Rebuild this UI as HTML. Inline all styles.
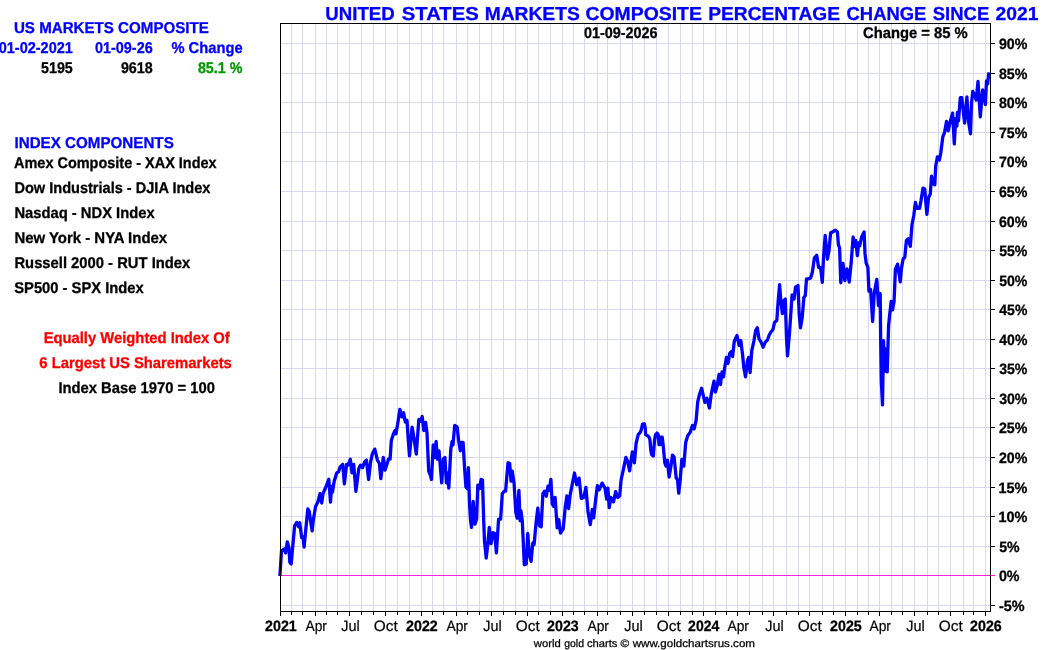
<!DOCTYPE html>
<html><head><meta charset="utf-8"><title>US Markets Composite</title>
<style>html,body{margin:0;padding:0;background:#fff;width:1050px;height:650px;overflow:hidden}</style></head>
<body>
<svg width="1050" height="650" viewBox="0 0 1050 650" style="position:absolute;left:0;top:0;will-change:transform;text-rendering:geometricPrecision;font-family:'Liberation Sans',sans-serif">
<rect width="1050" height="650" fill="#fff"/>
<path d="M291.5 24V611M302.5 24V611M315.5 24V611M326.5 24V611M337.5 24V611M349.5 24V611M361.5 24V611M373.5 24V611M385.5 24V611M397.5 24V611M409.5 24V611M421.5 24V611M432.5 24V611M443.5 24V611M456.5 24V611M467.5 24V611M479.5 24V611M491.5 24V611M503.5 24V611M515.5 24V611M527.5 24V611M538.5 24V611M550.5 24V611M562.5 24V611M573.5 24V611M584.5 24V611M597.5 24V611M607.5 24V611M620.5 24V611M632.5 24V611M644.5 24V611M656.5 24V611M668.5 24V611M680.5 24V611M692.5 24V611M703.5 24V611M715.5 24V611M726.5 24V611M737.5 24V611M749.5 24V611M762.5 24V611M773.5 24V611M786.5 24V611M798.5 24V611M809.5 24V611M822.5 24V611M833.5 24V611M845.5 24V611M857.5 24V611M868.5 24V611M879.5 24V611M891.5 24V611M902.5 24V611M914.5 24V611M927.5 24V611M938.5 24V611M950.5 24V611M963.5 24V611M973.5 24V611M985.5 24V611M281 605.5H990M281 546.5H990M281 516.5H990M281 487.5H990M281 457.5H990M281 427.5H990M281 398.5H990M281 368.5H990M281 339.5H990M281 309.5H990M281 280.5H990M281 250.5H990M281 221.5H990M281 191.5H990M281 161.5H990M281 132.5H990M281 102.5H990M281 73.5H990M281 43.5H990" stroke="#d6d8f4" stroke-width="1" fill="none" shape-rendering="crispEdges"/>
<path d="M280 575.5H995" stroke="#f51ee1" stroke-width="1" shape-rendering="crispEdges"/>
<path d="M279.9 576.0 L281.5 550.8 L284.8 548.7 L285.6 552.9 L287.3 541.9 L289.0 547.8 L289.8 562.2 L291.2 563.9 L294.6 525.8 L296.6 522.5 L298.6 526.7 L299.7 522.8 L301.7 537.7 L303.0 537.0 L304.1 547.0 L307.8 508.9 L309.3 511.5 L310.5 520.8 L312.2 530.9 L313.2 520.8 L315.6 506.4 L317.8 502.1 L320.0 493.7 L321.7 503.0 L323.0 493.7 L326.2 486.1 L328.8 479.3 L330.5 502.1 L331.6 486.5 L332.5 492.0 L334.2 481.2 L336.8 472.8 L338.5 472.0 L340.2 466.8 L342.7 464.3 L344.4 483.8 L346.6 464.3 L348.3 465.1 L350.3 459.2 L352.0 472.8 L353.7 464.3 L355.9 491.4 L358.8 468.5 L360.5 465.1 L362.5 467.7 L364.7 461.8 L366.4 460.1 L368.6 479.5 L370.6 461.8 L372.3 454.1 L374.8 449.1 L377.4 460.1 L379.4 463.5 L380.8 478.7 L383.3 457.5 L385.0 470.2 L386.7 465.1 L388.4 459.2 L390.1 459.2 L391.3 440.6 L393.5 433.8 L395.1 430.5 L396.0 433.8 L397.7 423.7 L399.9 409.3 L401.9 416.9 L403.6 412.7 L405.3 422.0 L407.0 420.3 L408.2 438.9 L409.5 455.8 L412.1 427.1 L414.1 438.9 L416.3 454.1 L418.8 419.5 L420.5 421.2 L422.2 416.5 L423.8 430.5 L425.6 422.4 L427.0 433.0 L428.7 471.1 L430.2 474.5 L431.5 479.5 L433.2 444.8 L434.9 457.5 L436.1 441.5 L437.4 459.2 L439.0 450.8 L441.7 482.9 L443.4 459.2 L444.9 457.5 L446.4 482.9 L447.4 472.8 L448.8 488.0 L450.8 449.1 L452.1 441.5 L453.0 444.8 L454.7 425.4 L457.2 427.1 L458.6 440.6 L460.3 450.8 L461.5 442.3 L463.1 442.3 L464.7 470.0 L465.9 486.9 L467.4 488.7 L468.4 467.7 L469.6 505.0 L470.5 520.0 L471.5 527.5 L473.2 501.3 L474.9 524.1 L476.6 519.1 L477.8 485.2 L479.5 488.6 L481.2 479.3 L482.5 480.2 L483.7 520.8 L484.5 541.1 L486.2 558.0 L487.6 546.1 L489.3 527.5 L491.0 543.6 L493.0 532.6 L494.7 533.5 L496.4 552.9 L498.6 519.1 L500.6 519.1 L502.3 493.7 L504.3 491.2 L505.6 491.2 L508.0 462.6 L509.7 463.5 L511.0 481.2 L512.2 471.1 L514.1 483.5 L515.8 512.3 L517.2 518.2 L518.9 490.3 L520.1 520.8 L520.9 510.6 L522.3 520.8 L524.3 564.8 L526.3 563.9 L527.7 533.5 L529.4 554.6 L531.1 561.4 L532.8 542.8 L534.1 544.5 L536.1 522.5 L537.8 508.1 L539.5 525.8 L541.2 526.7 L542.9 493.7 L544.6 491.2 L546.3 496.2 L548.0 486.1 L549.2 490.3 L550.9 479.3 L552.2 503.8 L553.5 506.2 L555.1 497.3 L557.2 527.8 L558.8 519.5 L560.5 533.1 L563.2 528.8 L565.2 507.7 L566.9 495.8 L568.6 508.5 L570.3 494.1 L572.0 485.7 L574.5 473.0 L576.7 484.8 L579.1 478.1 L581.3 498.4 L583.8 497.5 L585.9 487.4 L588.1 512.8 L590.3 524.6 L592.3 509.4 L593.7 517.8 L595.7 499.2 L597.4 485.7 L599.1 489.9 L602.1 483.1 L605.0 488.2 L606.7 499.2 L607.9 488.2 L609.2 507.7 L610.9 497.5 L613.5 501.8 L615.7 491.6 L617.7 497.5 L619.7 495.8 L621.1 479.8 L623.6 468.3 L625.9 457.3 L627.6 461.1 L629.6 470.8 L632.4 451.8 L634.4 462.8 L636.1 443.5 L638.2 434.7 L640.4 432.2 L641.6 428.5 L642.5 424.2 L644.4 423.8 L645.3 428.5 L645.6 434.6 L647.2 435.5 L649.0 437.1 L649.9 439.5 L650.8 450.0 L651.6 454.5 L653.3 456.0 L654.5 440.8 L655.5 434.6 L657.0 433.1 L658.2 434.6 L659.0 444.5 L660.1 444.5 L660.7 437.1 L662.2 437.1 L663.2 445.5 L664.8 462.8 L666.0 466.1 L667.4 460.2 L669.1 477.1 L670.8 467.0 L672.5 455.1 L674.1 456.8 L676.2 478.0 L677.5 479.7 L678.7 493.2 L680.1 481.4 L681.8 459.4 L683.8 466.1 L685.7 442.5 L687.7 435.7 L690.2 432.3 L692.4 425.5 L694.1 428.9 L696.1 420.5 L697.7 402.0 L699.4 394.8 L701.6 388.2 L703.4 396.0 L704.9 402.4 L707.0 398.3 L709.4 408.0 L711.2 394.6 L714.0 381.1 L715.4 392.1 L717.1 386.1 L719.1 374.3 L720.5 384.5 L722.1 371.8 L723.5 376.8 L724.7 367.5 L726.4 357.4 L728.1 363.3 L729.8 353.1 L731.5 351.5 L732.6 356.5 L734.3 341.3 L737.0 335.4 L739.1 345.5 L740.8 340.5 L742.5 354.0 L743.8 367.5 L745.5 376.8 L747.5 360.8 L748.7 357.4 L750.1 372.6 L751.8 350.6 L754.0 340.5 L755.7 330.3 L757.3 327.8 L759.0 338.8 L761.1 342.1 L763.1 347.2 L765.3 342.1 L767.5 340.0 L769.2 335.0 L770.9 332.0 L773.0 329.5 L774.5 322.5 L776.8 320.5 L778.2 300.8 L779.6 284.7 L780.7 299.1 L782.4 313.5 L783.6 300.8 L785.3 299.1 L786.5 338.0 L787.5 355.8 L789.5 332.9 L792.1 294.8 L794.1 299.1 L795.5 287.2 L798.0 285.5 L799.2 314.3 L800.5 327.8 L802.2 317.7 L803.9 297.4 L805.3 295.7 L806.5 278.8 L808.7 278.8 L810.7 277.9 L812.4 272.0 L814.4 257.8 L816.7 255.3 L818.6 267.6 L820.6 267.6 L822.3 282.4 L823.6 256.0 L825.2 235.3 L827.4 259.0 L829.0 250.5 L830.6 232.8 L832.8 231.9 L835.0 230.2 L837.4 231.9 L838.4 244.6 L839.6 248.0 L840.8 282.8 L843.0 263.3 L844.8 280.7 L847.0 268.8 L849.2 282.0 L851.2 262.5 L853.1 237.0 L854.3 246.3 L855.7 240.4 L857.4 255.7 L858.7 242.9 L859.7 246.0 L861.6 237.0 L864.1 231.9 L865.0 253.9 L866.2 263.2 L867.9 267.5 L868.9 291.1 L870.6 289.5 L872.6 321.5 L874.3 292.8 L876.8 279.3 L878.5 305.5 L880.2 293.7 L880.6 333.8 L881.3 381.2 L882.5 404.9 L883.5 340.6 L884.7 371.0 L885.5 349.0 L887.2 371.9 L888.6 325.4 L889.5 316.5 L891.2 301.3 L892.6 309.8 L894.1 301.3 L895.4 269.1 L897.6 264.1 L900.2 281.8 L901.4 269.1 L903.1 259.0 L904.8 257.3 L906.4 240.5 L908.3 238.8 L910.3 246.4 L912.0 224.5 L913.7 216.0 L915.4 202.5 L917.1 208.4 L919.6 208.4 L921.0 200.8 L923.0 188.1 L924.7 188.9 L926.9 214.3 L928.6 197.4 L930.3 194.0 L931.5 176.2 L933.1 183.8 L934.8 184.7 L935.7 166.1 L937.4 156.8 L939.4 160.0 L940.8 152.8 L942.8 136.9 L944.6 132.3 L946.5 121.5 L948.2 130.8 L950.0 122.3 L952.6 113.1 L954.3 143.8 L955.7 118.5 L956.9 126.2 L957.4 112.3 L958.5 120.8 L960.3 97.7 L961.8 97.7 L964.6 123.1 L966.9 96.9 L968.5 121.5 L970.5 133.8 L971.5 103.1 L972.8 91.5 L974.6 94.6 L976.2 100.0 L978.0 81.5 L980.3 116.9 L982.6 90.0 L983.8 93.8 L985.4 104.6 L986.5 80.8 L987.7 83.8 L988.8 72.3" stroke="#0000ff" stroke-width="3.3" fill="none" stroke-linejoin="round" stroke-linecap="butt"/>
<path d="M280.5 611.5V23.5H990.5V611.5H280" stroke="#000" stroke-width="1" fill="none" shape-rendering="crispEdges"/>
<path d="M280.5 612v4M291.5 612v3M302.5 612v3M315.5 612v4M326.5 612v3M337.5 612v3M349.5 612v4M361.5 612v3M373.5 612v3M385.5 612v4M397.5 612v3M409.5 612v3M421.5 612v4M432.5 612v3M443.5 612v3M456.5 612v4M467.5 612v3M479.5 612v3M491.5 612v4M503.5 612v3M515.5 612v3M527.5 612v4M538.5 612v3M550.5 612v3M562.5 612v4M573.5 612v3M584.5 612v3M597.5 612v4M607.5 612v3M620.5 612v3M632.5 612v4M644.5 612v3M656.5 612v3M668.5 612v4M680.5 612v3M692.5 612v3M703.5 612v4M715.5 612v3M726.5 612v3M737.5 612v4M749.5 612v3M762.5 612v3M773.5 612v4M786.5 612v3M798.5 612v3M809.5 612v4M822.5 612v3M833.5 612v3M845.5 612v4M857.5 612v3M868.5 612v3M879.5 612v4M891.5 612v3M902.5 612v3M914.5 612v4M927.5 612v3M938.5 612v3M950.5 612v4M963.5 612v3M973.5 612v3M985.5 612v4M991 605.5h4M991 546.5h4M991 516.5h4M991 487.5h4M991 457.5h4M991 427.5h4M991 398.5h4M991 368.5h4M991 339.5h4M991 309.5h4M991 280.5h4M991 250.5h4M991 221.5h4M991 191.5h4M991 161.5h4M991 132.5h4M991 102.5h4M991 73.5h4M991 43.5h4" stroke="#000" stroke-width="1" fill="none" shape-rendering="crispEdges"/>
<text x="998.90" y="610.7" font-size="15.0" font-weight="bold" stroke="#000" stroke-width="0.3" fill="#000" textLength="25.66" lengthAdjust="spacingAndGlyphs">-5%</text>
<text x="998.90" y="580.7" font-size="15.0" font-weight="bold" stroke="#000" stroke-width="0.3" fill="#000" textLength="20.65" lengthAdjust="spacingAndGlyphs">0%</text>
<text x="999.13" y="551.7" font-size="15.0" font-weight="bold" stroke="#000" stroke-width="0.3" fill="#000" textLength="20.42" lengthAdjust="spacingAndGlyphs">5%</text>
<text x="998.45" y="521.7" font-size="15.0" font-weight="bold" stroke="#000" stroke-width="0.3" fill="#000" textLength="28.91" lengthAdjust="spacingAndGlyphs">10%</text>
<text x="998.45" y="492.7" font-size="15.0" font-weight="bold" stroke="#000" stroke-width="0.3" fill="#000" textLength="28.91" lengthAdjust="spacingAndGlyphs">15%</text>
<text x="998.91" y="462.7" font-size="15.0" font-weight="bold" stroke="#000" stroke-width="0.3" fill="#000" textLength="28.45" lengthAdjust="spacingAndGlyphs">20%</text>
<text x="998.91" y="432.7" font-size="15.0" font-weight="bold" stroke="#000" stroke-width="0.3" fill="#000" textLength="28.45" lengthAdjust="spacingAndGlyphs">25%</text>
<text x="999.13" y="403.7" font-size="15.0" font-weight="bold" stroke="#000" stroke-width="0.3" fill="#000" textLength="28.22" lengthAdjust="spacingAndGlyphs">30%</text>
<text x="999.13" y="373.7" font-size="15.0" font-weight="bold" stroke="#000" stroke-width="0.3" fill="#000" textLength="28.22" lengthAdjust="spacingAndGlyphs">35%</text>
<text x="999.35" y="344.7" font-size="15.0" font-weight="bold" stroke="#000" stroke-width="0.3" fill="#000" textLength="28.00" lengthAdjust="spacingAndGlyphs">40%</text>
<text x="999.35" y="314.7" font-size="15.0" font-weight="bold" stroke="#000" stroke-width="0.3" fill="#000" textLength="28.00" lengthAdjust="spacingAndGlyphs">45%</text>
<text x="999.13" y="285.7" font-size="15.0" font-weight="bold" stroke="#000" stroke-width="0.3" fill="#000" textLength="28.22" lengthAdjust="spacingAndGlyphs">50%</text>
<text x="999.13" y="255.7" font-size="15.0" font-weight="bold" stroke="#000" stroke-width="0.3" fill="#000" textLength="28.22" lengthAdjust="spacingAndGlyphs">55%</text>
<text x="998.91" y="226.7" font-size="15.0" font-weight="bold" stroke="#000" stroke-width="0.3" fill="#000" textLength="28.45" lengthAdjust="spacingAndGlyphs">60%</text>
<text x="998.91" y="196.7" font-size="15.0" font-weight="bold" stroke="#000" stroke-width="0.3" fill="#000" textLength="28.45" lengthAdjust="spacingAndGlyphs">65%</text>
<text x="998.91" y="166.7" font-size="15.0" font-weight="bold" stroke="#000" stroke-width="0.3" fill="#000" textLength="28.45" lengthAdjust="spacingAndGlyphs">70%</text>
<text x="998.91" y="137.7" font-size="15.0" font-weight="bold" stroke="#000" stroke-width="0.3" fill="#000" textLength="28.45" lengthAdjust="spacingAndGlyphs">75%</text>
<text x="998.91" y="107.7" font-size="15.0" font-weight="bold" stroke="#000" stroke-width="0.3" fill="#000" textLength="28.45" lengthAdjust="spacingAndGlyphs">80%</text>
<text x="998.91" y="78.7" font-size="15.0" font-weight="bold" stroke="#000" stroke-width="0.3" fill="#000" textLength="28.45" lengthAdjust="spacingAndGlyphs">85%</text>
<text x="998.91" y="48.7" font-size="15.0" font-weight="bold" stroke="#000" stroke-width="0.3" fill="#000" textLength="28.45" lengthAdjust="spacingAndGlyphs">90%</text>
<text x="265.11" y="630.7" font-size="15.0" font-weight="bold" stroke="#000" stroke-width="0.3" fill="#000" textLength="31.60" lengthAdjust="spacingAndGlyphs">2021</text>
<text x="305.50" y="630.7" font-size="15.0" stroke="#000" stroke-width="0.2" fill="#000" textLength="21.47" lengthAdjust="spacingAndGlyphs">Apr</text>
<text x="341.37" y="630.7" font-size="15.0" stroke="#000" stroke-width="0.2" fill="#000" textLength="18.48" lengthAdjust="spacingAndGlyphs">Jul</text>
<text x="373.88" y="630.7" font-size="15.0" stroke="#000" stroke-width="0.2" fill="#000" textLength="23.97" lengthAdjust="spacingAndGlyphs">Oct</text>
<text x="406.11" y="630.7" font-size="15.0" font-weight="bold" stroke="#000" stroke-width="0.3" fill="#000" textLength="31.60" lengthAdjust="spacingAndGlyphs">2022</text>
<text x="446.50" y="630.7" font-size="15.0" stroke="#000" stroke-width="0.2" fill="#000" textLength="21.47" lengthAdjust="spacingAndGlyphs">Apr</text>
<text x="483.37" y="630.7" font-size="15.0" stroke="#000" stroke-width="0.2" fill="#000" textLength="18.48" lengthAdjust="spacingAndGlyphs">Jul</text>
<text x="515.88" y="630.7" font-size="15.0" stroke="#000" stroke-width="0.2" fill="#000" textLength="23.97" lengthAdjust="spacingAndGlyphs">Oct</text>
<text x="547.11" y="630.7" font-size="15.0" font-weight="bold" stroke="#000" stroke-width="0.3" fill="#000" textLength="31.60" lengthAdjust="spacingAndGlyphs">2023</text>
<text x="587.50" y="630.7" font-size="15.0" stroke="#000" stroke-width="0.2" fill="#000" textLength="21.47" lengthAdjust="spacingAndGlyphs">Apr</text>
<text x="624.37" y="630.7" font-size="15.0" stroke="#000" stroke-width="0.2" fill="#000" textLength="18.48" lengthAdjust="spacingAndGlyphs">Jul</text>
<text x="656.88" y="630.7" font-size="15.0" stroke="#000" stroke-width="0.2" fill="#000" textLength="23.97" lengthAdjust="spacingAndGlyphs">Oct</text>
<text x="688.11" y="630.7" font-size="15.0" font-weight="bold" stroke="#000" stroke-width="0.3" fill="#000" textLength="31.15" lengthAdjust="spacingAndGlyphs">2024</text>
<text x="727.50" y="630.7" font-size="15.0" stroke="#000" stroke-width="0.2" fill="#000" textLength="21.47" lengthAdjust="spacingAndGlyphs">Apr</text>
<text x="765.37" y="630.7" font-size="15.0" stroke="#000" stroke-width="0.2" fill="#000" textLength="18.48" lengthAdjust="spacingAndGlyphs">Jul</text>
<text x="797.88" y="630.7" font-size="15.0" stroke="#000" stroke-width="0.2" fill="#000" textLength="23.97" lengthAdjust="spacingAndGlyphs">Oct</text>
<text x="830.11" y="630.7" font-size="15.0" font-weight="bold" stroke="#000" stroke-width="0.3" fill="#000" textLength="31.60" lengthAdjust="spacingAndGlyphs">2025</text>
<text x="869.50" y="630.7" font-size="15.0" stroke="#000" stroke-width="0.2" fill="#000" textLength="21.47" lengthAdjust="spacingAndGlyphs">Apr</text>
<text x="906.37" y="630.7" font-size="15.0" stroke="#000" stroke-width="0.2" fill="#000" textLength="18.48" lengthAdjust="spacingAndGlyphs">Jul</text>
<text x="938.88" y="630.7" font-size="15.0" stroke="#000" stroke-width="0.2" fill="#000" textLength="23.97" lengthAdjust="spacingAndGlyphs">Oct</text>
<text x="970.11" y="630.7" font-size="15.0" font-weight="bold" stroke="#000" stroke-width="0.3" fill="#000" textLength="31.60" lengthAdjust="spacingAndGlyphs">2026</text>
<text x="325.28" y="19.8" font-size="18.8" font-weight="bold" stroke="#0000ff" stroke-width="0.3" fill="#0000ff" textLength="69.42" lengthAdjust="spacingAndGlyphs">UNITED</text>
<text x="401.73" y="19.8" font-size="18.8" font-weight="bold" stroke="#0000ff" stroke-width="0.3" fill="#0000ff" textLength="77.05" lengthAdjust="spacingAndGlyphs">STATES</text>
<text x="484.65" y="19.8" font-size="18.8" font-weight="bold" stroke="#0000ff" stroke-width="0.3" fill="#0000ff" textLength="95.11" lengthAdjust="spacingAndGlyphs">MARKETS</text>
<text x="585.44" y="19.8" font-size="18.8" font-weight="bold" stroke="#0000ff" stroke-width="0.3" fill="#0000ff" textLength="116.42" lengthAdjust="spacingAndGlyphs">COMPOSITE</text>
<text x="708.25" y="19.8" font-size="18.8" font-weight="bold" stroke="#0000ff" stroke-width="0.3" fill="#0000ff" textLength="131.70" lengthAdjust="spacingAndGlyphs">PERCENTAGE</text>
<text x="846.57" y="19.8" font-size="18.8" font-weight="bold" stroke="#0000ff" stroke-width="0.3" fill="#0000ff" textLength="79.76" lengthAdjust="spacingAndGlyphs">CHANGE</text>
<text x="932.76" y="19.8" font-size="18.8" font-weight="bold" stroke="#0000ff" stroke-width="0.3" fill="#0000ff" textLength="56.48" lengthAdjust="spacingAndGlyphs">SINCE</text>
<text x="995.55" y="19.8" font-size="18.8" font-weight="bold" stroke="#0000ff" stroke-width="0.3" fill="#0000ff" textLength="42.88" lengthAdjust="spacingAndGlyphs">2021</text>
<text x="584.00" y="37.6" font-size="15.5" font-weight="bold" stroke="#000" stroke-width="0.3" fill="#000" textLength="73.61" lengthAdjust="spacingAndGlyphs">01-09-2026</text>
<text x="862.99" y="37.5" font-size="15.5" font-weight="bold" stroke="#000" stroke-width="0.3" fill="#000" textLength="104.77" lengthAdjust="spacingAndGlyphs">Change = 85 %</text>
<text x="13.94" y="32.9" font-size="15.7" font-weight="bold" stroke="#0000ff" stroke-width="0.3" fill="#0000ff" textLength="194.91" lengthAdjust="spacingAndGlyphs">US MARKETS COMPOSITE</text>
<text x="-1.30" y="52.7" font-size="15.7" font-weight="bold" stroke="#0000ff" stroke-width="0.3" fill="#0000ff" textLength="74.11" lengthAdjust="spacingAndGlyphs">01-02-2021</text>
<text x="95.00" y="52.7" font-size="15.7" font-weight="bold" stroke="#0000ff" stroke-width="0.3" fill="#0000ff" textLength="57.71" lengthAdjust="spacingAndGlyphs">01-09-26</text>
<text x="171.42" y="52.7" font-size="15.7" font-weight="bold" stroke="#0000ff" stroke-width="0.3" fill="#0000ff" textLength="71.20" lengthAdjust="spacingAndGlyphs">% Change</text>
<text x="41.03" y="72.8" font-size="15.5" font-weight="bold" stroke="#000" stroke-width="0.3" fill="#000" textLength="31.78" lengthAdjust="spacingAndGlyphs">5195</text>
<text x="120.90" y="72.8" font-size="15.5" font-weight="bold" stroke="#000" stroke-width="0.3" fill="#000" textLength="31.80" lengthAdjust="spacingAndGlyphs">9618</text>
<text x="197.90" y="72.8" font-size="15.5" font-weight="bold" stroke="#009900" stroke-width="0.3" fill="#009900" textLength="44.55" lengthAdjust="spacingAndGlyphs">85.1 %</text>
<text x="14.50" y="147.8" font-size="15.7" font-weight="bold" stroke="#0000ff" stroke-width="0.3" fill="#0000ff" textLength="159.25" lengthAdjust="spacingAndGlyphs">INDEX COMPONENTS</text>
<text x="14.02" y="167.8" font-size="15.5" font-weight="bold" stroke="#000" stroke-width="0.3" fill="#000" textLength="202.63" lengthAdjust="spacingAndGlyphs">Amex Composite - XAX Index</text>
<text x="14.44" y="192.8" font-size="15.5" font-weight="bold" stroke="#000" stroke-width="0.3" fill="#000" textLength="196.02" lengthAdjust="spacingAndGlyphs">Dow Industrials - DJIA Index</text>
<text x="14.43" y="217.8" font-size="15.5" font-weight="bold" stroke="#000" stroke-width="0.3" fill="#000" textLength="140.23" lengthAdjust="spacingAndGlyphs">Nasdaq - NDX Index</text>
<text x="14.42" y="242.8" font-size="15.5" font-weight="bold" stroke="#000" stroke-width="0.3" fill="#000" textLength="152.73" lengthAdjust="spacingAndGlyphs">New York - NYA Index</text>
<text x="14.43" y="267.8" font-size="15.5" font-weight="bold" stroke="#000" stroke-width="0.3" fill="#000" textLength="175.83" lengthAdjust="spacingAndGlyphs">Russell 2000 - RUT Index</text>
<text x="14.22" y="292.8" font-size="15.5" font-weight="bold" stroke="#000" stroke-width="0.3" fill="#000" textLength="129.54" lengthAdjust="spacingAndGlyphs">SP500 - SPX Index</text>
<text x="43.63" y="342.8" font-size="15.5" font-weight="bold" stroke="#ff0000" stroke-width="0.3" fill="#ff0000" textLength="186.17" lengthAdjust="spacingAndGlyphs">Equally Weighted Index Of</text>
<text x="39.29" y="367.8" font-size="15.5" font-weight="bold" stroke="#ff0000" stroke-width="0.3" fill="#ff0000" textLength="192.56" lengthAdjust="spacingAndGlyphs">6 Largest US Sharemarkets</text>
<text x="58.43" y="392.8" font-size="15.5" font-weight="bold" stroke="#000" stroke-width="0.3" fill="#000" textLength="156.52" lengthAdjust="spacingAndGlyphs">Index Base 1970 = 100</text>
<text x="533.75" y="646.8" font-size="10.9" stroke="#000" stroke-width="0.25" fill="#000" textLength="26.93" lengthAdjust="spacingAndGlyphs">world</text>
<text x="564.17" y="646.8" font-size="10.9" stroke="#000" stroke-width="0.25" fill="#000" textLength="19.87" lengthAdjust="spacingAndGlyphs">gold</text>
<text x="586.94" y="646.8" font-size="10.9" stroke="#000" stroke-width="0.25" fill="#000" textLength="30.52" lengthAdjust="spacingAndGlyphs">charts</text>
<text x="620.64" y="646.8" font-size="10.9" stroke="#000" stroke-width="0.25" fill="#000" textLength="8.60" lengthAdjust="spacingAndGlyphs">©</text>
<text x="632.65" y="646.8" font-size="10.9" stroke="#000" stroke-width="0.25" fill="#000" textLength="122.37" lengthAdjust="spacingAndGlyphs">www.goldchartsrus.com</text>
</svg>
</body></html>
